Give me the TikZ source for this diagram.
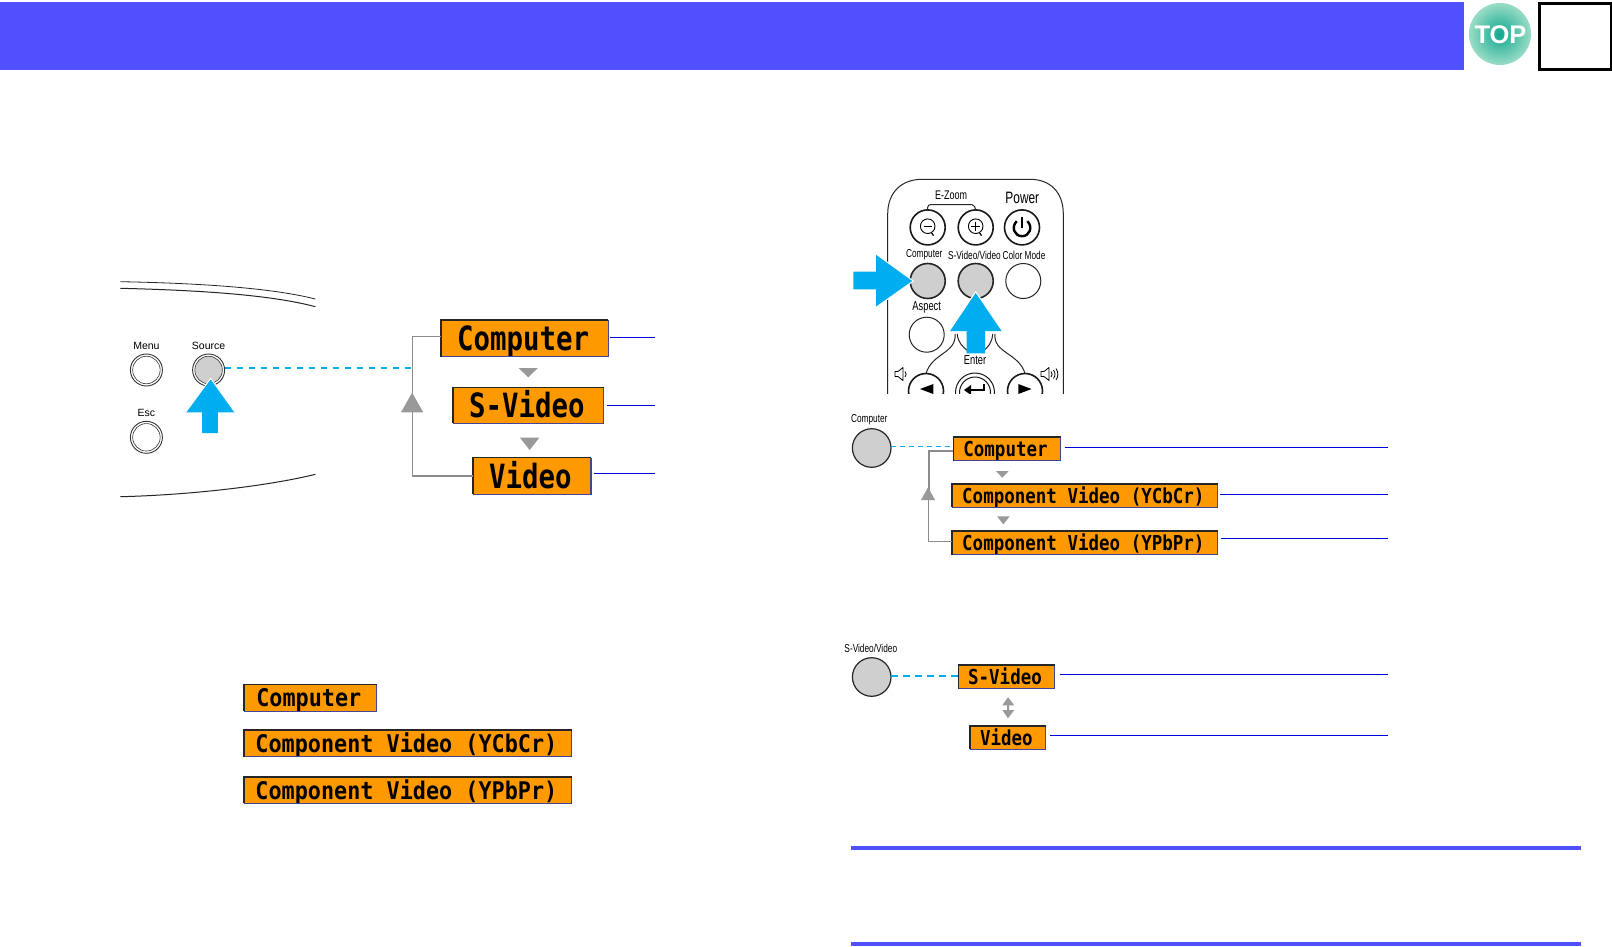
\documentclass[tikz,border=0pt]{standalone}
\usepackage{graphicx}
\usepackage{fontspec}
\setmainfont{Liberation Sans}
\newfontfamily\lcdfont{DejaVu Sans Mono}
\newfontfamily\narrowfont[FakeStretch=0.72]{Liberation Sans}
\definecolor{hdrblue}{HTML}{5050FF}
\definecolor{lcdorange}{HTML}{FF9900}
\definecolor{cyanarrow}{HTML}{00AEEF}
\definecolor{graymark}{HTML}{999999}
\definecolor{leaderblue}{HTML}{0000DD}
\definecolor{btngray}{HTML}{CFCFCF}
\definecolor{lcdedge}{HTML}{44449A}
\definecolor{topinner}{HTML}{0FA88F}
\definecolor{topouter}{HTML}{9ADCC6}
\tikzset{
  lcdbase/.style={fill=lcdorange,inner sep=0pt,outer sep=0pt,text=black,font=\lcdfont\bfseries},
  lcdtop/.style={draw=black!85,line width=1.4pt},
  lcdbot/.style={draw=lcdedge,line width=1.1pt},
  leader/.style={draw=leaderblue,line width=1pt},
  cyandash/.style={draw=cyanarrow,line width=2pt,dash pattern=on 6.5pt off 5.5pt},
  graymarkfill/.style={fill=graymark,draw=none},
  grayline/.style={draw=black!45,line width=1.2pt},
  panelbtn/.style={circle,draw=black!80,line width=.9pt,fill=white,minimum size=#1,inner sep=0pt,outer sep=0pt},
  remotebtn/.style={circle,draw=black!90,line width=1.6pt,fill=white,minimum size=35pt,inner sep=0pt,outer sep=0pt},
  graybtn/.style={circle,draw=black!85,line width=1.2pt,fill=btngray,minimum size=38.6pt,inner sep=0pt,outer sep=0pt},
  panellabel/.style={font=\fontsize{10.5}{12}\selectfont,text=black,inner sep=0pt},
  remotelabel/.style={font=\narrowfont\fontsize{11.5}{13}\selectfont,text=black,inner sep=0pt},
  outlinecurve/.style={draw=black!85,line width=1pt}
}
% name, x1, y1, x2, y2, xscale, yscale, text
\newcommand\lcdbox[8]{%
  \pgfmathsetmacro\lcdw{#4-#2}\pgfmathsetmacro\lcdh{#5-#3}%
  \node[lcdbase,minimum width=\lcdw pt,minimum height=\lcdh pt] (#1) at ({(#2+#4)/2},{(#3+#5)/2})
    {\hspace*{-3pt}\scalebox{#6}[#7]{\raisebox{-3.645pt}[0pt][0pt]{#8}}};
  \draw[lcdbot] (#1.south west) -| (#1.north east);
  \draw[lcdtop] (#1.south west) |- (#1.north east);
}
\begin{document}
\begin{tikzpicture}[x=1pt,y=-1pt]
\useasboundingbox (0,0) rectangle (1612,946);
\fill[white] (0,0) rectangle (1612,946);
% header
\fill[hdrblue] (0,2) rectangle (1464,70);
\shade[inner color=topinner,outer color=topouter] (1500,34) circle (31);
\node[font=\bfseries\fontsize{25.5}{25}\selectfont,text=white,inner sep=0pt] (toplabel) at (1500.5,34.5) {TOP};
\draw[black,line width=3pt] (1539,3) rectangle (1611,69.5);

% ---------- left: control panel
\draw[outlinecurve,line width=.8pt] (120.4,281.7) .. controls (190,283) and (268,287) .. (315.4,299);
\draw[outlinecurve] (120.4,288.3) .. controls (190,290) and (268,294) .. (315.4,306.7);
\draw[outlinecurve] (120.4,496.7) .. controls (190,495) and (268,486) .. (315.4,474.3);
\node[panellabel] (menulbl) at (146.4,346.3) {Menu};
\node[panellabel] (srclbl) at (208.6,346.3) {Source};
\node[panellabel] (esclbl) at (146.4,413) {Esc};
\node[panelbtn=32pt] (menuo) at (146.4,370) {};
\node[panelbtn=27.5pt,line width=.6pt] (menui) at (146.4,370) {};
\node[panelbtn=32pt] (esco) at (146.4,437.3) {};
\node[panelbtn=27.5pt,line width=.6pt] (esci) at (146.4,437.3) {};
\node[panelbtn=32pt] (srco) at (208.6,370) {};
\node[panelbtn=27.5pt,line width=.6pt,fill=btngray] (srci) at (208.6,370) {};
\fill[cyanarrow] (210.7,378.3) -- (235,412.3) -- (217.9,412.3) -- (217.9,433) -- (202.1,433) -- (202.1,412.3) -- (185.6,412.3) -- cycle;
\draw[white,line width=1pt] (185.6,412.3) -- (210.7,378.3) -- (235,412.3);

\lcdbox{lc}{441}{320}{608.2}{356.7}{2.74}{3.34}{Computer}
\lcdbox{ls}{452.9}{387.7}{603.9}{423.3}{2.74}{3.34}{S-Video}
\lcdbox{lv}{472.9}{457.7}{591}{494.3}{2.74}{3.34}{Video}
\coordinate (ljoin) at (412.5,368);
\draw[cyandash] (srco.east |- ljoin) -- (ljoin);
\draw[grayline] (lc.west |- 0,336.7) -| (ljoin) |- (lv.west |- 0,476);
\fill[graymarkfill] (412.1,392.7) -- (423.2,412.3) -- (401,412.3) -- cycle;
\fill[graymarkfill] (518.6,368) -- (537.9,368) -- (528.2,377.3) -- cycle;
\fill[graymarkfill] (520,437.7) -- (539.3,437.7) -- (529.6,450) -- cycle;
\coordinate (lce) at (655,337);
\coordinate (lse) at (655,405.3);
\coordinate (lve) at (655,473);
\draw[leader] ([xshift=2pt]lc.east |- lce) -- (lce);
\draw[leader] ([xshift=3pt]ls.east |- lse) -- (lse);
\draw[leader] ([xshift=3pt]lv.east |- lve) -- (lve);

% left: list of three
\lcdbox{mc}{244}{684.7}{376.7}{711.3}{2.18}{2.43}{Computer}
\lcdbox{my}{244}{730}{571.7}{756.7}{2.18}{2.43}{Component Video (YCbCr)}
\lcdbox{mp}{244}{777}{571.7}{803.3}{2.18}{2.43}{Component Video (YPbPr)}

% ---------- right: remote control
\begin{scope}
\clip (860,170) rectangle (1080,393.5);
\draw[outlinecurve] (887.7,400) -- (887.7,214) .. controls (887.7,192) and (902,179.3) .. (922,179.3) -- (1030,179.3) .. controls (1050,179.3) and (1063.3,192) .. (1063.3,214) -- (1063.3,400);
\node[remotebtn] (zoomout) at (927.7,227.4) {};
\node[remotebtn] (zoomin) at (975.7,227.4) {};
\node[remotebtn] (pwr) at (1022,227.4) {};
\draw[outlinecurve] (zoomout.north) -- ++(0,-2.5) .. controls ++(0,-2) and ++(-2,0) .. (931,204.6) -- (972,204.6) .. controls ++(2,0) and ++(0,-2) .. (zoomin.north);
\draw[black,line width=.9pt] (927.7,226.2) circle (7.3);
\draw[black,line width=1.3pt] (923.7,226.2) -- (931.7,226.2);
\draw[black,line width=1.3pt] (931.5,232.7) -- (933.5,235.7);
\draw[black,line width=.9pt] (975.7,226.2) circle (7.3);
\draw[black,line width=1.3pt] (971.2,226.2) -- (980.2,226.2) (975.7,221.7) -- (975.7,230.7);
\draw[black,line width=1.3pt] (979.5,232.7) -- (981.5,235.7);
\draw[black,line width=2.4pt] (1016.8,221.2) .. controls (1010.8,226.7) and (1014.3,236.2) .. (1022,236.2) .. controls (1029.7,236.2) and (1033.3,226.7) .. (1027.3,221.2);
\draw[black,line width=2.4pt] (1022,217.2) -- (1022,227.7);
\node[remotelabel,font=\narrowfont\fontsize{12.5}{14}\selectfont] (ezlbl) at (951,195) {E-Zoom};
\node[remotelabel,font=\narrowfont\fontsize{16.5}{17}\selectfont] (pwlbl) at (1022.3,198) {Power};
\node[remotelabel] (cplbl) at (924.3,255) {Computer};
\node[remotelabel] (svlbl) at (974.4,255) {S-Video/Video};
\node[remotelabel] (cmlbl) at (1024,255) {Color Mode};
\node[remotelabel,font=\narrowfont\fontsize{13}{14}\selectfont] (aslbl) at (926.7,307.5) {Aspect};
\node[remotebtn,draw=black!85,fill=btngray] (bcomp) at (927.7,281) {};
\node[remotebtn,draw=black!85,fill=btngray] (bsv) at (975.7,281) {};
\node[remotebtn,line width=1pt,draw=black!85] (bcm) at (1023.3,281) {};
\node[remotebtn,line width=1pt,draw=black!85] (basp) at (926.7,334.7) {};
\node[remotebtn] (bleft) at (926,391) {};
\node[remotebtn] (bright) at (1025,391) {};
\node[remotebtn,minimum size=39pt,line width=1pt] (benter) at (975,392.5) {};
\node[remotebtn,minimum size=31pt,line width=1pt] (benteri) at (975,392.5) {};
\draw[outlinecurve] (955,334) .. controls (957,353) and (932,353) .. (926,373.5);
\draw[outlinecurve] (995,334) .. controls (993,353) and (1019,353) .. (1025,373.5);
\draw[outlinecurve] (957.3,334) .. controls (958,343) and (963,347) .. (968,351);
\draw[outlinecurve] (992.7,334) .. controls (992,343) and (988,347) .. (983.3,351);
\fill[black] (920,389) -- (933.3,384) -- (933.3,394) -- cycle;
\fill[black] (1031.5,389) -- (1018.3,384) -- (1018.3,394) -- cycle;
\draw[black,line width=2pt] (984,384) -- (984,390) -- (968,390);
\fill[black] (964,390) -- (971,385) -- (971,395) -- cycle;
\draw[black,line width=.8pt,line join=round] (895,371.5) -- (898,371.5) -- (903,367.5) -- (903,380.5) -- (898,376.5) -- (895,376.5) -- cycle;
\draw[black,line width=.8pt] (905,371.5) .. controls (906.5,373.5) and (906.5,375) .. (905,377);
\draw[black,line width=.8pt,line join=round] (1041,371.5) -- (1044,371.5) -- (1049,367.5) -- (1049,380.5) -- (1044,376.5) -- (1041,376.5) -- cycle;
\draw[black,line width=.8pt] (1051,371.5) .. controls (1052.5,373.5) and (1052.5,375) .. (1051,377);
\draw[black,line width=.8pt] (1053.5,370) .. controls (1055.5,373) and (1055.5,375.5) .. (1053.5,378.5);
\draw[black,line width=.8pt] (1056,368.5) .. controls (1058.5,372.5) and (1058.5,376) .. (1056,380);
\end{scope}
\fill[cyanarrow] (913.3,281) -- (876,307.3) -- (876,289.3) -- (853.3,289.3) -- (853.3,271.7) -- (876,271.7) -- (876,254) -- cycle;
\draw[white,line width=1pt] (876,307.3) -- (913.3,281) -- (876,254);
\fill[cyanarrow] (975.7,291.7) -- (1002.3,331) -- (985,331) -- (985,353.3) -- (966.7,353.3) -- (966.7,331) -- (949.3,331) -- cycle;
\draw[white,line width=1pt] (949.3,331) -- (975.7,291.7) -- (1002.3,331);
\node[remotelabel,font=\narrowfont\fontsize{13}{14}\selectfont] (enlbl) at (975,360.3) {Enter};

% ---------- right: Computer chain
\node[remotelabel] (rclbl) at (869.3,419.5) {Computer};
\node[graybtn] (rc) at (871.7,448) {};
\lcdbox{rcc}{953.3}{437}{1060.7}{460.7}{1.75}{2.06}{Computer}
\lcdbox{rcy}{952}{484}{1217.7}{507.3}{1.75}{2.06}{Component Video (YCbCr)}
\lcdbox{rcp}{952}{531}{1217.7}{554.7}{1.75}{2.06}{Component Video (YPbPr)}
\draw[cyandash,line width=1.2pt,dash pattern=on 5pt off 4pt] (rc.east |- 0,446.7) -- (rcc.west |- 0,446.7);
\coordinate (rjoin) at (928.7,500);
\draw[grayline,line width=1.7pt] (rcc.west |- 0,450.7) -| (rjoin);
\draw[grayline] (rjoin) |- (rcp.west |- 0,541.3);
\fill[graymarkfill] (928,487.3) -- (935,500) -- (921,500) -- cycle;
\fill[graymarkfill] (996,471) -- (1008.7,471) -- (1002.3,477.7) -- cycle;
\fill[graymarkfill] (997,516.3) -- (1009.7,516.3) -- (1003.3,524.3) -- cycle;
\coordinate (rcce) at (1388,447.3);
\coordinate (rcye) at (1388,494.3);
\coordinate (rcpe) at (1388,538);
\draw[leader] ([xshift=4pt]rcc.east |- rcce) -- (rcce);
\draw[leader] ([xshift=2pt]rcy.east |- rcye) -- (rcye);
\draw[leader] ([xshift=3pt]rcp.east |- rcpe) -- (rcpe);

% ---------- right: S-Video chain
\node[remotelabel] (rslbl) at (870.8,648.7) {S-Video/Video};
\node[graybtn] (rs) at (871.7,677) {};
\lcdbox{rss}{958.3}{665}{1054.7}{688.7}{1.75}{2.06}{S-Video}
\lcdbox{rsv}{970}{726}{1045.7}{749.3}{1.75}{2.06}{Video}
\draw[cyandash] (rs.east |- 0,675.7) -- (rss.west |- 0,675.7);
\fill[graymarkfill] (1008,697.3) -- (1014.3,705.3) -- (1009,705.3) -- (1009,710) -- (1014.3,710) -- (1008,718.3) -- (1002.3,710) -- (1007,710) -- (1007,705.3) -- (1002.3,705.3) -- cycle;
\coordinate (rsse) at (1388,674);
\coordinate (rsve) at (1388,735.3);
\draw[leader] ([xshift=5pt]rss.east |- rsse) -- (rsse);
\draw[leader] ([xshift=4pt]rsv.east |- rsve) -- (rsve);

% note bars
\fill[hdrblue] (851,846) rectangle (1581,850);
\fill[hdrblue] (851,942) rectangle (1581,946);
\end{tikzpicture}
\end{document}
